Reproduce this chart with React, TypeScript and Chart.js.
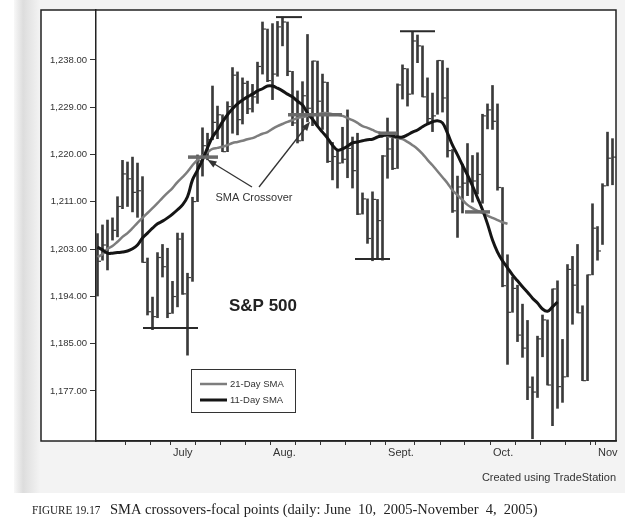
import React, { useEffect, useRef } from 'react';
import { Chart, registerables } from 'chart.js';
Chart.register(...registerables);

const FONT = "'Liberation Sans', Arial, sans-serif";
const SERIF = "'Liberation Serif', 'Times New Roman', serif";

// Daily S&P 500 bars, June 10 2005 .. Nov 4 2005 (trading-day index 0..103)
const highs = [
  1206, 1207.6, 1208.5, 1208.9, 1212.8, 1219.5, 1219.2, 1220.1, 1219, 1216.5,
  1201.5, 1194.3, 1202.5, 1204, 1203.3, 1197.2, 1206.1, 1206.1, 1198.7, 1212.7,
  1220.5, 1225.5, 1224.5, 1233.2, 1229.5, 1227.9, 1230.3, 1236.6, 1235.8, 1234.7,
  1234.1, 1233.5, 1237.6, 1245, 1243.7, 1244.7, 1245.1, 1245.9, 1245, 1235.9,
  1232.3, 1234, 1242.7, 1237.8, 1237.8, 1235.4, 1233.9, 1222.8, 1221.2, 1225.6,
  1228.8, 1223.8, 1224.5, 1213.5, 1212.4, 1213.7, 1212.3, 1220.4, 1227.3, 1224.6,
  1233.6, 1237.1, 1236.4, 1243.1, 1242.6, 1240.6, 1234.7, 1231.9, 1237.9, 1237.9,
  1236.5, 1221.5, 1216.6, 1218.8, 1222.6, 1220.4, 1220.9, 1228, 1229.9, 1233.3,
  1229.9, 1214.5, 1202.1, 1198, 1196.5, 1193, 1190, 1179.6, 1187.1, 1191,
  1190.1, 1195.8, 1197.3, 1186.5, 1200.3, 1201.8, 1204, 1192.7, 1198.4, 1211.5,
  1207.3, 1215.2, 1224.7, 1223.5,
];
const lows = [
  1194.5, 1201.1, 1199.3, 1204.8, 1205.4, 1210.6, 1211, 1210, 1209, 1200.7,
  1191, 1188.3, 1190.5, 1198, 1190.5, 1191.3, 1192.5, 1194.8, 1183.6, 1197.2,
  1211.9, 1216.6, 1219.6, 1223.3, 1223.5, 1221.1, 1221.1, 1224.5, 1224.2, 1226.2,
  1228.1, 1228.4, 1230, 1235.4, 1234, 1230.7, 1235, 1240.6, 1235.1, 1225.9,
  1222.7, 1223.1, 1226.6, 1225.9, 1225.9, 1225.2, 1219.1, 1215.9, 1214.4, 1219,
  1216.3, 1214.4, 1209.5, 1209.6, 1204.2, 1201, 1201.3, 1201.1, 1216.2, 1217.8,
  1218, 1230.8, 1229.5, 1231.7, 1237.5, 1231.2, 1226.2, 1224.8, 1228, 1228.4,
  1220.1, 1209.9, 1205.3, 1209.8, 1213, 1211.8, 1213.3, 1211.6, 1225.3, 1225.2,
  1214, 1196.2, 1181.9, 1191.5, 1186.1, 1183.2, 1175.4, 1168.2, 1175.8, 1183.3,
  1178.1, 1170.6, 1173.8, 1174.9, 1179.6, 1189.3, 1191.4, 1178.9, 1178.9, 1198.4,
  1201.1, 1204, 1214.8, 1215,
];
const closes = [
  1200.9, 1203.9, 1202.2, 1206.6, 1211, 1217, 1216.1, 1213.6, 1213.9, 1200.7,
  1191.6, 1190.7, 1201.6, 1199.9, 1191.3, 1194.4, 1205, 1194.9, 1197.9, 1211.9,
  1219.4, 1222.2, 1223.3, 1226.5, 1227.9, 1221.1, 1229.4, 1235.2, 1227, 1233.7,
  1229, 1231.2, 1236.8, 1243.7, 1234.2, 1235.4, 1244.1, 1245, 1235.9, 1226.4,
  1223.1, 1231.4, 1229.1, 1237.8, 1230.4, 1233.9, 1219.3, 1220.2, 1219, 1219.7,
  1221.7, 1217.6, 1209.6, 1212.4, 1205.1, 1212.3, 1208.4, 1220.3, 1221.6, 1218,
  1233.4, 1236.4, 1231.7, 1241.5, 1240.6, 1231.2, 1227.2, 1227.7, 1237.9, 1231,
  1221.3, 1210.2, 1214.6, 1215.3, 1215.6, 1215.7, 1216.9, 1227.7, 1228.8, 1226.7,
  1214.5, 1196.4, 1191.5, 1195.9, 1187.3, 1184.9, 1177.7, 1176.8, 1186.6, 1190.1,
  1178.1, 1195.8, 1177.8, 1179.6, 1199.4, 1196.5, 1191.4, 1178.9, 1198.4, 1207,
  1202.8, 1214.8, 1219.9, 1220.1,
];
// 11-day SMA as drawn (ends on Oct 20)
const sma11 = [
  1203.5, 1203.0, 1202.4, 1202.4, 1202.5, 1202.6, 1202.8, 1203.2, 1203.9, 1205.2,
  1206.1, 1207.0, 1207.8, 1208.3, 1208.9, 1209.6, 1210.4, 1211.3, 1212.8, 1215.9,
  1217.7, 1219.6, 1221.8, 1223.8, 1225.1, 1226.6, 1227.9, 1229.0, 1229.9, 1230.6,
  1231.2, 1231.7, 1232.3, 1232.7, 1233.2, 1233.2, 1232.8, 1232.3, 1231.7, 1231.2,
  1230.4, 1229.7, 1228.2, 1227.1, 1225.8, 1224.7, 1223.6, 1222.3, 1221.4, 1221.6,
  1222.1, 1222.7, 1222.9, 1223.1, 1223.3, 1223.4, 1223.8, 1224.0, 1224.2, 1224.0,
  1223.8, 1223.8, 1224.2, 1224.7, 1225.1, 1225.7, 1226.2, 1226.6, 1226.8, 1226.4,
  1224.5, 1222.3, 1220.5, 1218.6, 1216.8, 1214.8, 1212.6, 1210.4, 1207.8, 1204.8,
  1202.6, 1201.0, 1199.7, 1198.4, 1197.3, 1196.2, 1195.2, 1194.1, 1193.2, 1192.1,
  1191.7, 1192.5, 1193.4,
];
// 21-day SMA as drawn (ends on Oct 6)
const sma21 = [
  1201.7, 1202.2, 1203.2, 1203.7, 1204.5, 1205.4, 1206.1, 1207.0, 1208.0, 1208.9,
  1209.8, 1210.7, 1211.6, 1212.6, 1213.5, 1214.4, 1215.5, 1216.4, 1217.4, 1218.6,
  1219.6, 1220.3, 1221.0, 1221.6, 1221.8, 1222.0, 1222.3, 1222.7, 1222.9, 1223.1,
  1223.4, 1223.6, 1224.0, 1224.4, 1224.7, 1225.3, 1225.8, 1226.2, 1226.6, 1226.9,
  1227.3, 1227.5, 1227.7, 1227.9, 1228.0, 1228.2, 1228.2, 1228.0, 1227.9, 1227.7,
  1227.3, 1226.9, 1226.4, 1225.8, 1225.5, 1225.1, 1224.7, 1224.4, 1224.0, 1223.8,
  1223.6, 1223.4, 1222.9, 1222.3, 1221.6, 1220.7, 1219.6, 1218.6, 1217.5, 1216.4,
  1215.3, 1214.0, 1213.1, 1212.2, 1211.3, 1210.7, 1210.2, 1209.8, 1209.3, 1208.9,
  1208.5, 1208.1, 1207.8,
];

const yTickValues = [1177, 1185.71, 1194.43, 1203.14, 1211.86, 1220.57, 1229.29, 1238];
const yTickLabels = ['1,177.00', '1,185.00', '1,194.00', '1,203.00', '1,211.00', '1,220.00', '1,229.00', '1,238.00'];
const monthTickPos = [14.5, 34.5, 57.5, 78.5, 99.5];
const monthLabels = ['July', 'Aug.', 'Sept.', 'Oct.', 'Nov'];
const weekTickPos = [5.5, 10.5, 19.5, 24.5, 29.5, 39.5, 44.5, 49.5, 54.5, 63.5, 68.5, 73.5, 83.5, 88.5, 93.5, 98.5];

// focal-point lines (highs / lows)
const focalStart = [9.1, 35.7, 60.5, 51.5];
const focalEnd = [20.1, 40.9, 67.5, 58.5];
const focalValue = [1188.6, 1245.9, 1243.3, 1201.3];
// crossover marks
const crossStart = [18.1, 38.1, 56.2, 73.5];
const crossEnd = [24.1, 48.9, 60.0, 78.5];
const crossValue = [1220.1, 1227.9, 1224.5, 1210.0];
// arrow targets from "SMA Crossover"
const arrowIdx = [22, 42.5];
const arrowVal = [1219.6, 1226.6];

function drawArrow(ctx: CanvasRenderingContext2D, x0: number, y0: number, x1: number, y1: number) {
  const a = Math.atan2(y1 - y0, x1 - x0);
  const L = 9, W = 3.5;
  ctx.beginPath();
  ctx.moveTo(x0, y0);
  ctx.lineTo(x1 - Math.cos(a) * L * 0.8, y1 - Math.sin(a) * L * 0.8);
  ctx.stroke();
  ctx.beginPath();
  ctx.moveTo(x1, y1);
  ctx.lineTo(x1 - Math.cos(a) * L - Math.sin(a) * W, y1 - Math.sin(a) * L + Math.cos(a) * W);
  ctx.lineTo(x1 - Math.cos(a) * L + Math.sin(a) * W, y1 - Math.sin(a) * L - Math.cos(a) * W);
  ctx.closePath();
  ctx.fill();
}

const annot = {
  id: 'annot',
  beforeDraw(chart: any) {
    const { ctx, width, height, chartArea: ca } = chart;
    ctx.save();
    ctx.fillStyle = '#ffffff';
    ctx.fillRect(0, 0, width, height);
    ctx.fillStyle = '#f3f3f3';
    ctx.fillRect(16, 0, width - 16, 493);
    const g = ctx.createLinearGradient(14, 0, 40, 0);
    g.addColorStop(0, '#f8f8f8');
    g.addColorStop(0.35, '#dddddd');
    g.addColorStop(1, '#f3f3f3');
    ctx.fillStyle = g;
    ctx.fillRect(14, 0, 26, 493);
    ctx.fillStyle = '#ffffff';
    ctx.fillRect(ca.left - 55, ca.top, ca.right - ca.left + 55, ca.bottom - ca.top);
    ctx.restore();
  },
  afterDraw(chart: any) {
    const { ctx, chartArea: ca, scales } = chart;
    const xs = scales.x, ys = scales.y;
    ctx.save();
    // frame
    ctx.strokeStyle = '#222';
    ctx.lineWidth = 1.5;
    ctx.strokeRect(ca.left - 55, ca.top, ca.right - ca.left + 55, ca.bottom - ca.top);

    // S&P 500
    ctx.fillStyle = '#222';
    ctx.font = `bold 17px ${FONT}`;
    ctx.textAlign = 'center';
    ctx.textBaseline = 'middle';
    ctx.fillText('S&P 500', 263, 306);

    // SMA Crossover text + arrows
    ctx.font = `11px ${FONT}`;
    ctx.fillStyle = '#333';
    ctx.fillText('SMA Crossover', 254, 198);
    ctx.strokeStyle = '#333';
    ctx.fillStyle = '#333';
    ctx.lineWidth = 1.3;
    drawArrow(ctx, 252, 187, xs.getPixelForValue(arrowIdx[0]), ys.getPixelForValue(arrowVal[0]));
    drawArrow(ctx, 259, 187, xs.getPixelForValue(arrowIdx[1]), ys.getPixelForValue(arrowVal[1]));

    // legend box
    ctx.lineWidth = 1;
    ctx.strokeStyle = '#333';
    ctx.strokeRect(191.5, 369.5, 104, 43);
    ctx.lineWidth = 2.5;
    ctx.strokeStyle = '#7d7d7d';
    ctx.beginPath(); ctx.moveTo(200, 384); ctx.lineTo(227, 384); ctx.stroke();
    ctx.lineWidth = 3;
    ctx.strokeStyle = '#151515';
    ctx.beginPath(); ctx.moveTo(200, 400); ctx.lineTo(227, 400); ctx.stroke();
    ctx.fillStyle = '#333';
    ctx.font = `9.5px ${FONT}`;
    ctx.textAlign = 'left';
    ctx.fillText('21-Day SMA', 230, 384);
    ctx.fillText('11-Day SMA', 230, 400);

    // footer
    ctx.font = `11px ${FONT}`;
    ctx.textAlign = 'right';
    ctx.fillStyle = '#333';
    ctx.fillText('Created using TradeStation', 616, 478);

    // caption
    ctx.textAlign = 'left';
    ctx.textBaseline = 'alphabetic';
    ctx.fillStyle = '#222';
    ctx.save();
    ctx.translate(32, 514);
    ctx.scale(0.86, 1);
    ctx.font = `13px ${SERIF}`;
    ctx.fillText('FIGURE 19.17', 0, 0);
    ctx.restore();
    ctx.font = `14.5px ${SERIF}`;
    ctx.fillText('SMA crossovers-focal points (daily: June  10,  2005-November  4,  2005)', 110, 514);
    ctx.restore();
  },
};

export default function App() {
  const ref = useRef<HTMLCanvasElement>(null);
  useEffect(() => {
    if (!ref.current) return;
    const idx = highs.map((_, i) => i);
    const markerSets: any[] = [];
    focalValue.forEach((v, k) => {
      markerSets.push({
        type: 'line',
        data: [{ x: focalStart[k], y: v }, { x: focalEnd[k], y: v }],
        borderColor: '#2a2a2a', borderWidth: 2, pointRadius: 0, order: 0,
      });
    });
    crossValue.forEach((v, k) => {
      markerSets.push({
        type: 'line',
        data: [{ x: crossStart[k], y: v }, { x: crossEnd[k], y: v }],
        borderColor: '#6a6a6a', borderWidth: 3.5, pointRadius: 0, order: 0,
      });
    });
    const allXTicks = [...weekTickPos, ...monthTickPos].sort((a, b) => a - b);
    const chart = new Chart(ref.current, {
      type: 'bar',
      data: {
        datasets: [
          {
            type: 'line', label: '11-Day SMA',
            data: sma11.map((v, i) => ({ x: i, y: v })),
            borderColor: '#151515', borderWidth: 3, pointRadius: 0, tension: 0.4, order: 1,
          } as any,
          {
            type: 'line', label: '21-Day SMA',
            data: sma21.map((v, i) => ({ x: i, y: v })),
            borderColor: '#7d7d7d', borderWidth: 2.5, pointRadius: 0, tension: 0.4, order: 2,
          },
          {
            type: 'bar', label: 'S&P 500',
            data: idx.map((i) => ({ x: i, y: [lows[i], highs[i]] })),
            backgroundColor: '#3a3a3a', barThickness: 2, order: 4,
          },
          {
            type: 'line', label: 'Close',
            data: closes.map((c, i) => ({ x: i + 0.35, y: c })),
            showLine: false, pointStyle: 'line', pointRadius: 1.7,
            pointBorderColor: '#3a3a3a', pointBorderWidth: 1.2, borderColor: '#3a3a3a', order: 3,
          },
          ...markerSets,
        ],
      },
      options: {
        animation: false,
        responsive: false,
        devicePixelRatio: 1,
        layout: { padding: { left: 41, top: 10, right: 9, bottom: 57 } },
        plugins: { legend: { display: false }, tooltip: { enabled: false } },
        scales: {
          x: {
            type: 'linear', min: -0.3, max: 103.7, offset: false,
            afterBuildTicks: (s: any) => { s.ticks = allXTicks.map((v) => ({ value: v })); },
            afterFit: (s: any) => { s.height = 25; },
            ticks: {
              autoSkip: false, maxRotation: 0, minRotation: 0, align: 'start', padding: 1,
              color: '#333', font: { family: FONT, size: 11 },
              callback: (v: any) => {
                const k = monthTickPos.indexOf(Number(v));
                return k >= 0 ? ' ' + monthLabels[k] : '';
              },
            },
            grid: { drawOnChartArea: false, drawTicks: true, tickLength: 4, color: '#333', offset: false },
            border: { display: true, color: '#222', width: 1.5 },
          },
          y: {
            type: 'linear', min: 1167.78, max: 1247.21,
            afterBuildTicks: (s: any) => { s.ticks = yTickValues.map((v) => ({ value: v })); },
            afterFit: (s: any) => { s.width = 55; },
            ticks: {
              color: '#333', font: { family: FONT, size: 9.5 }, padding: 3,
              callback: (_v: any, i: number) => yTickLabels[i],
            },
            grid: { drawOnChartArea: false, drawTicks: true, tickLength: 6, color: '#333' },
            border: { display: true, color: '#222', width: 1.5 },
          },
        },
      } as any,
      plugins: [annot],
    });
    return () => chart.destroy();
  }, []);
  return (
    <div style={{ position: 'absolute', left: 0, top: 0, width: 625, height: 523 }}>
      <canvas ref={ref} width={625} height={523} style={{ display: 'block' }} />
    </div>
  );
}
